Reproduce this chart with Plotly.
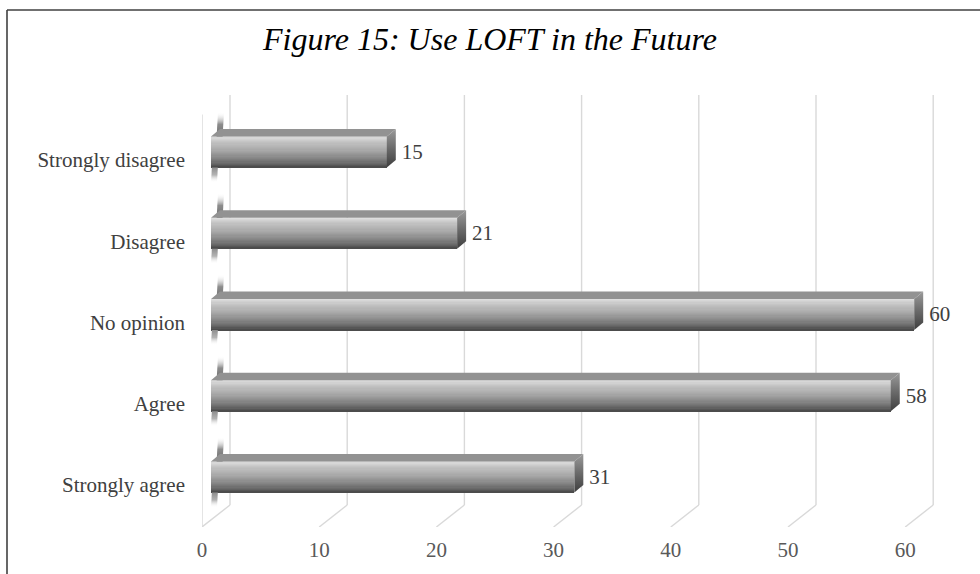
import plotly.graph_objects as go

# ---- data ----
categories = ["Strongly agree", "Agree", "No opinion", "Disagree", "Strongly disagree"]
values = [31, 58, 60, 21, 15]
tick_values = [0, 10, 20, 30, 40, 50, 60]
title_text = "Figure 15: Use LOFT in the Future"

# ---- page / plot-area geometry (pixels) ----
W, H = 980, 574
M_L, M_R, M_T, M_B = 202, 18, 95, 47
PLOT_W = W - M_L - M_R
PLOT_H = H - M_T - M_B
PX_X = 11.72          # pixels per value unit
PX_Y = 81.25          # pixels per category step
FLOOR_PX = 42         # floor sits this far below the first category centre

x_range = [0, PLOT_W / PX_X]
y_lo = -FLOOR_PX / PX_Y
y_range = [y_lo, y_lo + PLOT_H / PX_Y]

# depth of the 3-D box (front plane -> back wall), in axis units
DX, DY = 28 / PX_X, 22 / PX_Y
# bar solid: start offset, vertical lift, face height, bar depth
BAR_START = 9 / PX_X
BAR_LIFT = 8 / PX_Y
BAR_H = 31 / PX_Y
DD_X, DD_Y = 9 / PX_X, 7.5 / PX_Y
LABEL_GAP = 6 / PX_X

FONT = "Liberation Serif"
GRID = "#d9d9d9"

fig = go.Figure()
shapes = []

# ---- back wall, floor and left wall lines (kept beneath the bars) ----
grid = dict(type="line", xref="x", yref="y", layer="below", line=dict(color=GRID, width=1.4))
for t in tick_values:
    shapes.append(dict(grid, x0=t + DX, x1=t + DX, y0=y_lo + DY, y1=y_range[1]))
    shapes.append(dict(grid, x0=t, x1=t + DX, y0=y_lo, y1=y_lo + DY))
shapes.append(dict(grid, x0=0, x1=0, y0=y_lo, y1=y_range[1] - DY + 0.03))

# ---- soft shading of the bar ends on the left wall ----
for i, v in enumerate(values):
    yc = i + BAR_LIFT
    yb, yt = yc - BAR_H / 2, yc + BAR_H / 2
    bot = yb - 15 / PX_Y
    top = yt + DD_Y + 17 / PX_Y
    x_at = lambda y: BAR_START + (y - bot) / (top - bot) * 4 / PX_X
    wdt = 6 / PX_X
    # below the bar
    fig.add_trace(go.Scatter(
        x=[x_at(bot), x_at(bot) + wdt, x_at(yb) + wdt, x_at(yb), x_at(bot)],
        y=[bot, bot, yb, yb, bot],
        mode="lines", fill="toself", line=dict(width=0),
        fillgradient=dict(type="vertical",
                          colorscale=[[0, "rgba(255,255,255,0)"], [0.5, "#b4b4b4"],
                                      [1, "#8e8e8e"]]),
        hoverinfo="skip", showlegend=False))
    # above the bar (its lower part is hidden by the top face)
    fig.add_trace(go.Scatter(
        x=[x_at(yt) + 3 / PX_X, x_at(yt) + wdt + 3 / PX_X, x_at(top) + wdt + 3 / PX_X,
           x_at(top) + 3 / PX_X, x_at(yt) + 3 / PX_X],
        y=[yt, yt, top, top, yt],
        mode="lines", fill="toself", line=dict(width=0),
        fillgradient=dict(type="vertical",
                          colorscale=[[0, "#6e6e6e"], [0.5, "#8c8c8c"],
                                      [1, "rgba(255,255,255,0)"]]),
        hoverinfo="skip", showlegend=False))

# ---- front faces of the bars: stacked thin strips give a vertical shading ----
stops = [(0.0, (222, 222, 222)), (0.07, (210, 210, 210)), (0.18, (194, 194, 194)),
         (0.45, (168, 168, 168)), (0.72, (132, 132, 132)), (0.9, (102, 102, 102)),
         (1.0, (76, 76, 76))]


def shade(f):
    for (a, ca), (b, cb) in zip(stops[:-1], stops[1:]):
        if a <= f <= b:
            u = (f - a) / (b - a)
            return "rgb(%d,%d,%d)" % tuple(round(ca[k] + (cb[k] - ca[k]) * u) for k in range(3))
    return "rgb(%d,%d,%d)" % stops[-1][1]


N = 26
step = BAR_H / N
for k in range(N):
    off = BAR_H / 2 - (k + 0.5) * step
    fig.add_trace(go.Bar(
        orientation="h",
        y=[i + BAR_LIFT + off for i in range(len(values))],
        x=values, base=BAR_START, width=step * 1.15,
        marker=dict(color=shade(k / (N - 1)), line=dict(width=0)),
        hoverinfo="skip", showlegend=False))

# ---- top faces ----
tx, ty = [], []
for i, v in enumerate(values):
    yt = i + BAR_LIFT + BAR_H / 2
    x0, x1 = BAR_START, BAR_START + v
    tx += [x0, x1, x1 + DD_X, x0 + DD_X, x0, None]
    ty += [yt, yt, yt + DD_Y, yt + DD_Y, yt, None]
fig.add_trace(go.Scatter(x=tx, y=ty, mode="lines", fill="toself", fillcolor="#929292",
                         line=dict(width=0), hoverinfo="skip", showlegend=False))

# ---- end caps ----
for i, v in enumerate(values):
    yc = i + BAR_LIFT
    yb, yt = yc - BAR_H / 2, yc + BAR_H / 2
    x1 = BAR_START + v
    fig.add_trace(go.Scatter(
        x=[x1, x1, x1 + DD_X, x1 + DD_X, x1],
        y=[yb, yt, yt + DD_Y, yb + DD_Y, yb],
        mode="lines", fill="toself", line=dict(width=0),
        fillgradient=dict(type="vertical",
                          colorscale=[[0, "#3e3e3e"], [0.5, "#6a6a6a"], [1, "#9a9a9a"]]),
        hoverinfo="skip", showlegend=False))

# ---- value labels ----
fig.add_trace(go.Scatter(
    x=[BAR_START + v + DD_X + LABEL_GAP for v in values],
    y=[i + BAR_LIFT - 0.02 for i in range(len(values))],
    mode="text", text=[str(v) for v in values], textposition="middle right",
    textfont=dict(family=FONT, size=21, color="#404040"),
    hoverinfo="skip", showlegend=False))

# ---- outer frame (top and left edges) ----
px = lambda p: (p - M_L) / PLOT_W
py = lambda p: (H - M_B - p) / PLOT_H
frame = dict(type="line", xref="paper", yref="paper", line=dict(color="#404040", width=1.6))
shapes += [
    dict(frame, x0=px(7), x1=px(W + 2), y0=py(10), y1=py(10)),
    dict(frame, x0=px(7), x1=px(7), y0=py(10), y1=py(H + 2)),
]

fig.update_layout(
    width=W, height=H,
    margin=dict(l=M_L, r=M_R, t=M_T, b=M_B, autoexpand=False),
    paper_bgcolor="white", plot_bgcolor="white",
    barmode="overlay", bargap=0,
    title=dict(text=title_text, x=0.5, xref="container", xanchor="center",
               y=1 - 39 / H, yref="container", yanchor="middle",
               font=dict(family=FONT, size=32, color="#000000", style="italic")),
    xaxis=dict(range=x_range, tickvals=tick_values, showgrid=False, zeroline=False,
               showline=False, ticks="", ticklabelstandoff=8,
               tickfont=dict(family=FONT, size=21, color="#595959"), fixedrange=True),
    yaxis=dict(range=y_range, tickvals=list(range(len(categories))), ticktext=categories,
               showgrid=False, zeroline=False, showline=False, ticks="",
               ticklabelstandoff=16,
               tickfont=dict(family=FONT, size=21, color="#404040"), fixedrange=True),
    shapes=shapes,
    showlegend=False,
)

fig.write_html("out.html")
